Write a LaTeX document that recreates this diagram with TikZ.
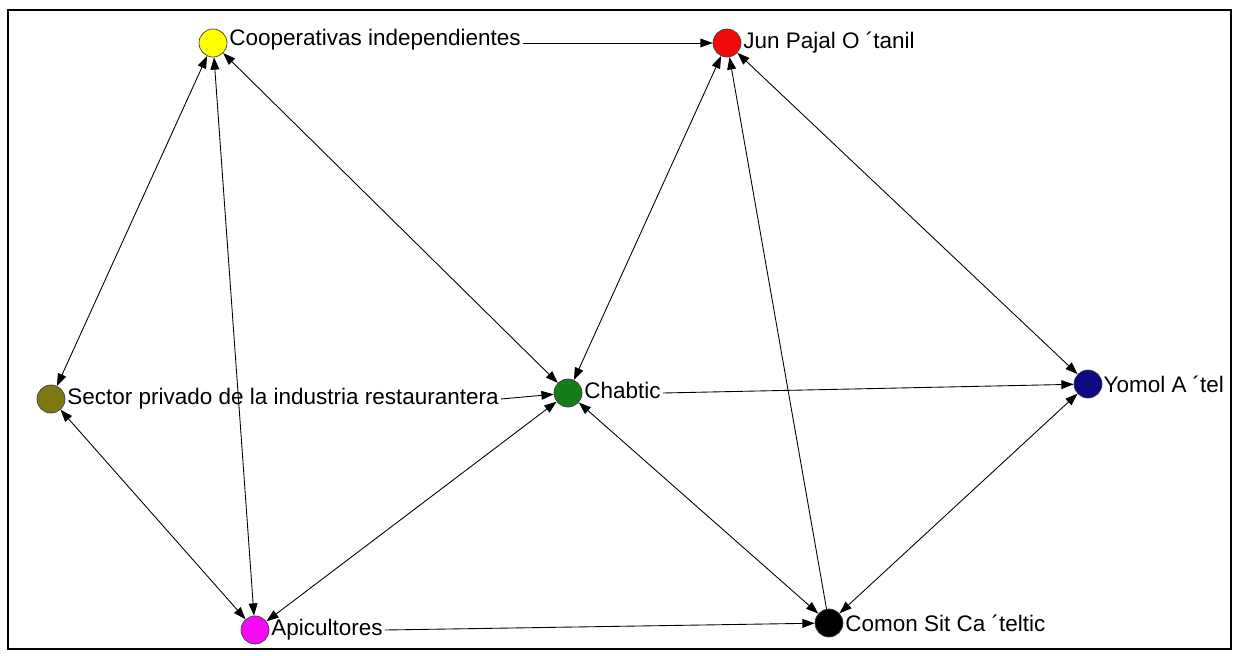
\documentclass[tikz,border=0pt]{standalone}
\usepackage{fontspec}
\setmainfont{Liberation Sans}
\usetikzlibrary{arrows.meta,positioning}
\definecolor{lemon}{RGB}{255, 255, 0}
\definecolor{scarlet}{RGB}{240, 10, 10}
\definecolor{oliva}{RGB}{125, 120, 15}
\definecolor{forest}{RGB}{20, 125, 25}
\definecolor{navyblue}{RGB}{10, 10, 130}
\definecolor{fuchsia}{RGB}{245, 10, 245}
\tikzset{actor/.style={circle,draw=black!75,thin,minimum size=0.56cm,inner sep=0pt}}
\tikzset{actorname/.style={anchor=west,inner sep=1pt,font=\fontsize{12.8}{15}\selectfont}}
\tikzset{oneway/.style={-{Triangle[length=7pt,width=5pt]},line width=0.5pt}}
\tikzset{twoway/.style={{Triangle[length=7pt,width=5pt]}-{Triangle[length=7pt,width=5pt]},line width=0.5pt}}

\begin{document}
\begin{tikzpicture}[x=0.02cm,y=-0.02cm]
	\useasboundingbox (0,0) rectangle (1235,656);
	\draw[line width=1.2pt] (8,10) rectangle (1231,649);
	% actors
	\node[actor,fill=lemon] (coop) at (213,43) {};
	\node[actor,fill=scarlet] (jun) at (727,43) {};
	\node[actor,fill=oliva] (sector) at (51,399) {};
	\node[actor,fill=forest] (chab) at (568,393) {};
	\node[actor,fill=navyblue] (yomol) at (1088,384) {};
	\node[actor,fill=fuchsia] (apic) at (255,630) {};
	\node[actor,fill=black] (comon) at (829,623) {};
	% names
	\node[actorname,yshift=0.06cm] (cooplbl) at (coop.east) {Cooperativas independientes};
	\node[actorname] (junlbl) at (jun.east) {Jun Pajal O ´tanil};
	\node[actorname] (sectorlbl) at (sector.east) {Sector privado de la industria restaurantera};
	\node[actorname,yshift=0.06cm] (chablbl) at (chab.east) {Chabtic};
	\node[actorname,inner sep=0.5pt] (yomollbl) at (yomol.east) {Yomol A ´tel};
	\node[actorname] (apiclbl) at (apic.east) {Apicultores};
	\node[actorname] (comonlbl) at (comon.east) {Comon Sit Ca ´teltic};
	% ties
	\draw[oneway] (cooplbl.east |- coop) -- (jun);
	\draw[twoway] (coop) -- (sector);
	\draw[twoway] (coop) -- (apic);
	\draw[twoway] (coop) -- (chab);
	\draw[twoway] (jun) -- (chab);
	\draw[oneway] (comon) -- (jun);
	\draw[twoway] (jun) -- (yomol);
	\draw[oneway] (sectorlbl.east) -- (chab);
	\draw[twoway] (sector) -- (apic);
	\draw[twoway] (apic) -- (chab);
	\draw[oneway] (apiclbl.east |- apic) -- (comon);
	\draw[oneway] (chablbl.east |- chab) -- (yomol);
	\draw[twoway] (chab) -- (comon);
	\draw[twoway] (comon) -- (yomol);
\end{tikzpicture}
\end{document}
